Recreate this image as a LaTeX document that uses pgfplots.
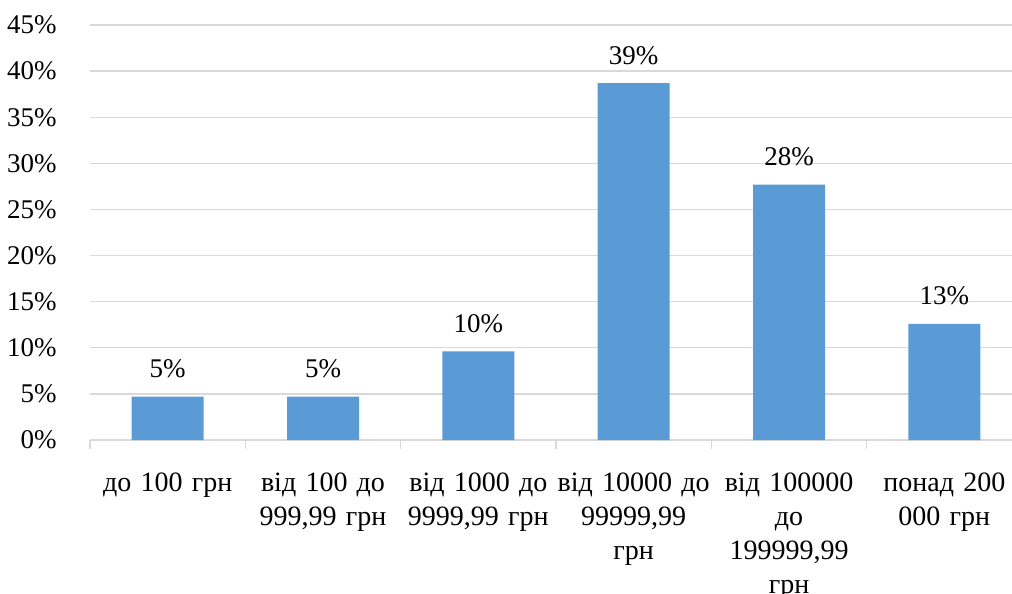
\documentclass[border=0pt]{standalone}
\usepackage{pgfplots}
\pgfplotsset{compat=1.18}
\usepackage{pgfplotstable}
\usepackage{fontspec}
\setmainfont{Liberation Serif}
\definecolor{barblue}{HTML}{5B9BD5}
\definecolor{gridgray}{HTML}{D9D9D9}
\newcommand{\catfont}{\fontsize{28}{34}\selectfont\spaceskip=0.33em\relax}
\pgfplotstableread{
x val lab
0 4.7 5\%
1 4.7 5\%
2 9.6 10\%
3 38.7 39\%
4 27.7 28\%
5 12.6 13\%
}\datatable
\begin{document}
\begin{tikzpicture}
\useasboundingbox (-90pt,-154pt) rectangle (922pt,440pt);
\begin{axis}[
  at={(0,0)}, anchor=south west,
  scale only axis,
  width=932pt, height=415pt,
  xmin=-0.5, xmax=5.5,
  ymin=0, ymax=45,
  ytick={0,5,...,45},
  yticklabel={\pgfmathprintnumber{\tick}\%},
  /pgf/number format/assume math mode=true,
  axis line style={draw=none},
  ymajorgrids, grid style={gridgray, line width=1.3pt},
  major y tick style={draw=none},
  xtick={0,...,5},
  major x tick style={draw=none},
  minor xtick={-0.5,0.5,...,5.5},
  minor x tick style={gridgray, line width=1.3pt},
  tick align=outside, xtick pos=bottom, ytick pos=left,
  minor tick length=9pt,
  xticklabels={до 100 грн, {від 100 до\\999,99 грн}, {від 1000 до\\9999,99 грн}, {від 10000 до\\99999,99\\грн}, {від 100000\\до\\199999,99\\грн}, {понад 200\\000 грн}},
  x tick label style={anchor=north, align=center, inner sep=0pt, yshift=-28pt, font=\catfont},
  y tick label style={anchor=east, inner sep=0pt, xshift=-29pt, font=\fontsize{27}{34}\selectfont},
  nodes near coords,
  point meta=explicit symbolic,
  every node near coord/.append style={anchor=base, inner sep=0pt, yshift=19pt, font=\fontsize{27}{34}\selectfont, text=black},
]
\addplot[ybar, bar width=72pt, fill=barblue, draw=none] table[x=x, y=val, meta=lab] {\datatable};
\end{axis}
\end{tikzpicture}
\end{document}
